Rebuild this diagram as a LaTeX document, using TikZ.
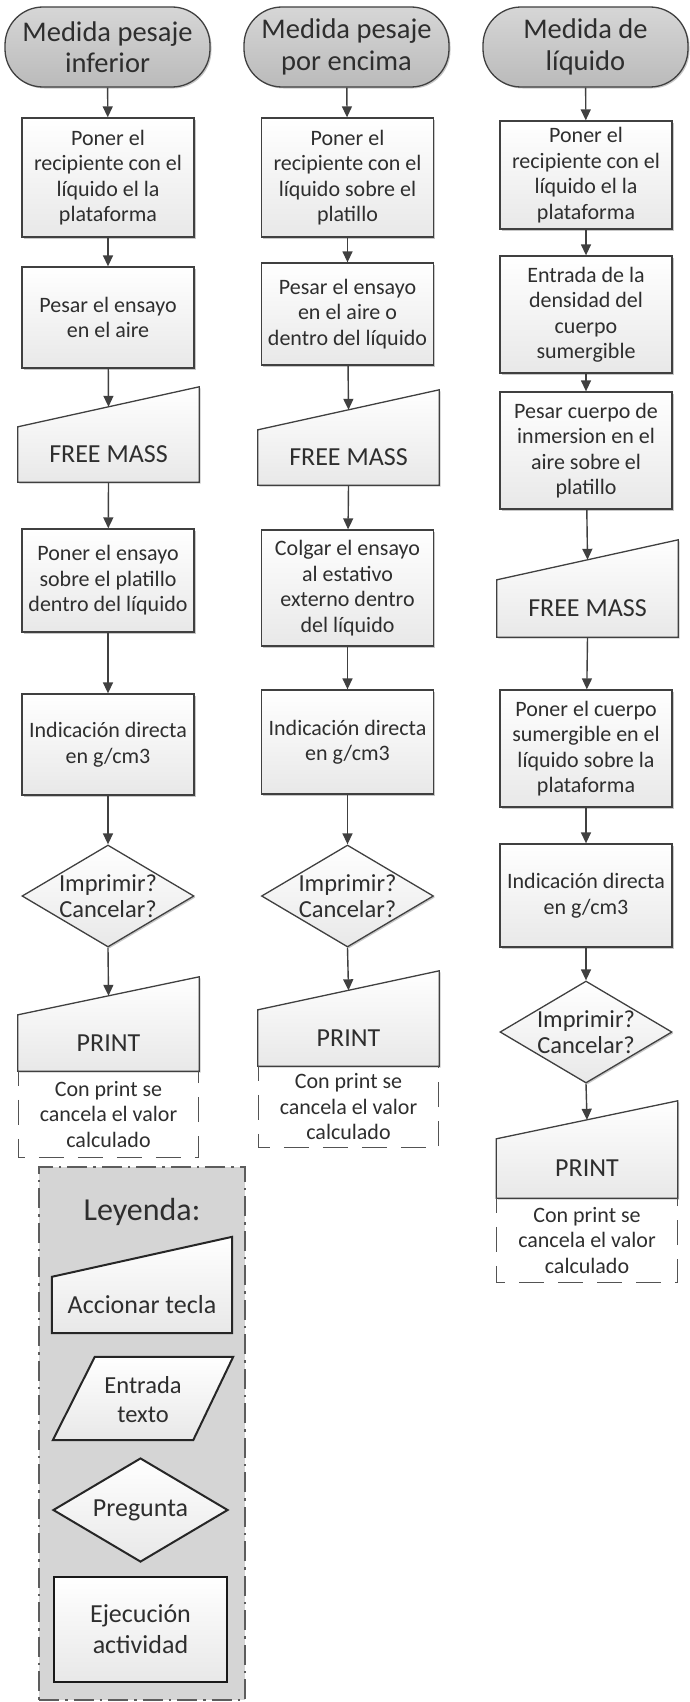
\documentclass[tikz,border=0pt]{standalone}
\usepackage{fontspec}
\setmainfont{Carlito}
\usetikzlibrary{arrows.meta,shapes.geometric,shadows}

\definecolor{edge}{HTML}{404040}
\definecolor{txt}{HTML}{2E2E2E}
\definecolor{legfill}{HTML}{D5D5D5}

\newcommand\fsBox{\fontsize{22}{25.5}\selectfont}
\newcommand\fsTerm{\fontsize{28.5}{31.5}\selectfont}
\newcommand\fsKey{\fontsize{26}{30}\selectfont}
\newcommand\fsAsk{\fontsize{24.5}{26.5}\selectfont}
\newcommand\fsTitle{\fontsize{32}{36}\selectfont}
\newcommand\fsLeg{\fontsize{24.5}{29}\selectfont}

\tikzset{
  base/.style={align=center, inner sep=0pt, text=txt},
  shadebox/.style={top color=white, bottom color=black!9},
  softshadow/.style={drop shadow={shadow xshift=1.5pt, shadow yshift=-1.5pt, opacity=0.22, fill=black}},
  stepbox/.style={base, font=\fsBox, draw=edge, line width=1.3pt, shadebox, softshadow, minimum width=172pt},
  startbox/.style={base, font=\fsTerm, draw=edge, line width=1.3pt, top color=black!16, bottom color=black!27,
    rounded corners=38pt, minimum width=205pt, minimum height=80pt, softshadow},
  keyframe/.style={base, minimum width=181pt},
  keyshape/.style={draw=edge, line width=1.3pt, shadebox, softshadow},
  keylabel/.style={base, font=\fsKey},
  askshape/.style={diamond, draw=edge, line width=1.3pt, shadebox, softshadow,
    minimum width=172pt, minimum height=102pt, inner sep=0pt},
  asktext/.style={base, font=\fsAsk},
  notebox/.style={base, font=\fsBox, minimum width=180pt},
  notedash/.style={draw=edge!90, line width=1.3pt, dash pattern=on 25pt off 14pt, dash phase=10pt},
  flow/.style={draw=edge, line width=1.4pt, -{Triangle[length=11pt,width=10pt]}},
  legendbox/.style={fill=legfill, draw=edge!85, line width=2.4pt, dash pattern=on 20pt off 6pt on 2.5pt off 6pt,
    minimum width=206pt, minimum height=533pt, inner sep=0pt},
  legshape/.style={draw=black!85, line width=2pt, shadebox},
  legtext/.style={base, font=\fsLeg},
}

% manual-input key: name, x centre, y top, y bottom, slant, text
\newcommand\keystep[6]{%
  \node[keyframe, minimum height={#4-#3}] (#1) at (#2,{(#3+#4)/2}) {};
  \path[keyshape] (#1.south west) -- (#1.south east) -- (#1.north east)
    -- ([yshift={-#5pt}]#1.north west) -- cycle;
  \node[keylabel] (#1-l) at (#2,{#4-(#4-#3-#5)/2}) {#6};
  \coordinate (#1-in) at ([yshift={-0.5*#5pt}]#1.north);
}

% open dashed note hanging below a key
\newcommand\notebelow[5]{% name, x centre, y top, y bottom, text
  \node[notebox, minimum height={#4-#3}] (#1) at (#2,{(#3+#4)/2}) {#5};
  \draw[notedash] (#1.north west) -- (#1.south west) -- (#1.south east) -- (#1.north east);
}

\begin{document}
\begin{tikzpicture}[x=1pt, y=-1pt]
\useasboundingbox (0,0) rectangle (689,1702);

% ---------- column 1 ----------
\node[startbox] (t1) at (107.5,47) {Medida pesaje\\inferior};
\node[stepbox, minimum height=119pt] (b11) at (108,177.5) {Poner el\\recipiente con el\\líquido el la\\plataforma};
\node[stepbox, minimum height=101pt] (b12) at (108,317.5) {Pesar el ensayo\\en el aire};
\keystep{f1}{108.5}{387}{482}{40}{FREE MASS}
\node[stepbox, minimum height=103pt] (b13) at (108,580.5) {Poner el ensayo\\sobre el platillo\\dentro del líquido};
\node[stepbox, minimum height=101pt] (b14) at (108,744.5) {Indicación directa\\en g/cm3};
\node[askshape] (d1) at (108,896) {};
\node[asktext] (d1-t) at (d1.center) {Imprimir?\\Cancelar?};
\keystep{p1}{108.5}{977}{1071}{38}{PRINT}
\notebelow{n1}{108.5}{1071}{1157}{Con print se\\cancela el valor\\calculado}

\draw[flow] (t1) -- (b11);
\draw[flow] (b11) -- (b12);
\draw[flow] (b12) -- (f1-in);
\draw[flow] (f1.south) -- (b13);
\draw[flow] (b13) -- (b14);
\draw[flow] (b14) -- (d1);
\draw[flow] (d1.south) -- (p1-in);

% ---------- column 2 ----------
\node[startbox] (t2) at (346.5,47) {Medida pesaje\\por encima};
\node[stepbox, minimum height=119pt] (b21) at (347.5,177.5) {Poner el\\recipiente con el\\líquido sobre el\\platillo};
\node[stepbox, minimum height=102pt] (b22) at (347.5,314) {Pesar el ensayo\\en el aire o\\dentro del líquido};
\keystep{f2}{348.5}{390}{485}{40}{FREE MASS}
\node[stepbox, minimum height=116pt] (b23) at (347.5,588) {Colgar el ensayo\\al estativo\\externo dentro\\del líquido};
\node[stepbox, minimum height=104pt] (b24) at (347.5,742) {Indicación directa\\en g/cm3};
\node[askshape] (d2) at (347.5,896) {};
\node[asktext] (d2-t) at (d2.center) {Imprimir?\\Cancelar?};
\keystep{p2}{348.5}{971}{1066}{39}{PRINT}
\notebelow{n2}{348.5}{1066}{1147}{Con print se\\cancela el valor\\calculado}

\draw[flow] (t2) -- (b21);
\draw[flow] (b21) -- (b22);
\draw[flow] (b22) -- (f2-in);
\draw[flow] (f2.south) -- (b23);
\draw[flow] (b23) -- (b24);
\draw[flow] (b24) -- (d2);
\draw[flow] (d2.south) -- (p2-in);

% ---------- column 3 ----------
\node[startbox] (t3) at (585.5,47) {Medida de\\líquido};
\node[stepbox, minimum height=108pt] (b31) at (586,175) {Poner el\\recipiente con el\\líquido el la\\plataforma};
\node[stepbox, minimum height=117pt] (b32) at (586,314.5) {Entrada de la\\densidad del\\cuerpo\\sumergible};
\node[stepbox, minimum height=117pt] (b33) at (586,450.5) {Pesar cuerpo de\\inmersion en el\\aire sobre el\\platillo};
\keystep{f3}{587.5}{540}{637}{40}{FREE MASS}
\node[stepbox, minimum height=117pt] (b34) at (586,748.5) {Poner el cuerpo\\sumergible en el\\líquido sobre la\\plataforma};
\node[stepbox, minimum height=103pt] (b35) at (586,895.5) {Indicación directa\\en g/cm3};
\node[askshape] (d3) at (586,1032) {};
\node[asktext] (d3-t) at (d3.center) {Imprimir?\\Cancelar?};
\keystep{p3}{587}{1101}{1198}{38}{PRINT}
\notebelow{n3}{587}{1198}{1282}{Con print se\\cancela el valor\\calculado}

\draw[flow] (t3) -- (b31);
\draw[flow] (b31) -- (b32);
\draw[flow] (b32) -- (b33);
\draw[flow] (b33) -- (f3-in);
\draw[flow] (f3.south) -- (b34);
\draw[flow] (b34) -- (b35);
\draw[flow] (b35) -- (d3);
\draw[flow] (d3.south) -- (p3-in);

% ---------- legend ----------
\node[legendbox] (leg) at (142,1433.5) {};
\node[base, font=\fsTitle] (leg-t) at (142,1212) {Leyenda:};

\node[keyframe, minimum width=180pt, minimum height=96pt] (lk) at (142,1285) {};
\path[legshape] (lk.south west) -- (lk.south east) -- (lk.north east)
  -- ([yshift=-40pt]lk.north west) -- cycle;
\node[legtext, font=\fontsize{26}{30}\selectfont] (lk-t) at (142,1305) {Accionar tecla};

\node[base, minimum width=180pt, minimum height=83pt] (lp) at (143,1398.5) {};
\path[legshape] (lp.south west) -- ([xshift=-40pt]lp.south east) -- (lp.north east)
  -- ([xshift=42pt]lp.north west) -- cycle;
\node[legtext] (lp-t) at (143,1400) {Entrada\\texto};

\node[diamond, aspect=1.7, legshape, minimum width=175pt, minimum height=104pt, inner sep=0pt,
  base, font=\fontsize{26}{30}\selectfont] (ld) at (140.5,1510) {Pregunta};

\node[base, draw=black!90, line width=2.8pt, shadebox, minimum width=173pt, minimum height=105pt,
  font=\fontsize{26}{31}\selectfont] (lr) at (140.5,1629.5) {Ejecución\\actividad};

\end{tikzpicture}
\end{document}
